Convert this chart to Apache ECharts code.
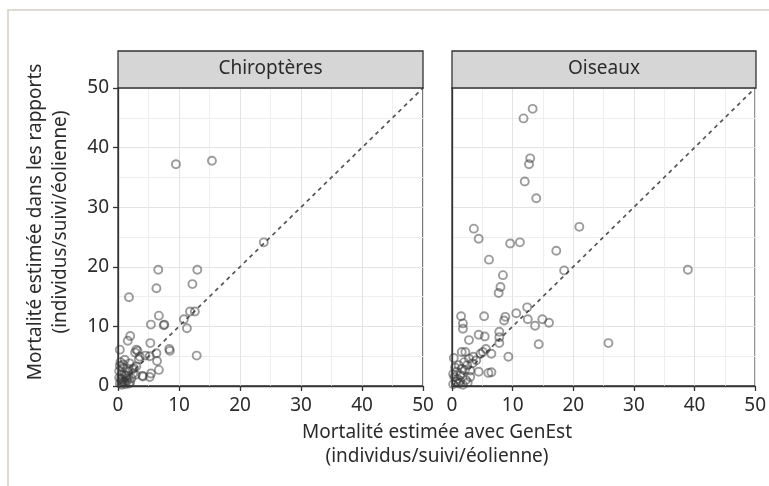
<!DOCTYPE html>
<html>
<head>
<meta charset="utf-8">
<script src="https://cdn.jsdelivr.net/npm/echarts@6/dist/echarts.min.js"></script>
<style>
  html, body { margin: 0; padding: 0; background: #fff; }
  #chart { width: 769px; height: 486px; }
</style>
</head>
<body>
<div id="chart"></div>
<script>
// panneaux
const panels = ['Chiroptères', 'Oiseaux']
const xTicks = [0, 10, 20, 30, 40, 50]
const yTicks = [0, 10, 20, 30, 40, 50]

// Chiroptères : GenEst (x) / rapports (y)
const chiroGenEst = [9.5, 15.4, 23.9, 6.6, 13.0, 6.3, 12.2, 1.8, 6.7, 5.4, 7.5, 7.6, 10.8, 11.8, 12.6, 11.3, 12.9, 2.0, 1.6, 5.3,
  8.4, 8.5, 3.2, 6.3, 4.5, 5.2, 6.4, 6.7, 5.4, 4.0, 5.2, 0.3, 3.0, 2.8, 1.1, 1.9, 3.0, 0.8, 1.7, 0.6,
  1.4, 2.2, 0.8, 0.3, 2.5, 4.1, 0.2, 1.2, 2.0, 0.5, 1.0, 2.6, 0.4, 3.4, 1.5,
  0.6, 1.3, 2.4, 0.9, 1.8, 0.3, 1.6, 2.9, 0.7, 1.1, 3.6, 0.2]
const chiroRapports = [37.2, 37.8, 24.1, 19.5, 19.5, 16.4, 17.1, 14.9, 11.8, 10.3, 10.2, 10.3, 11.2, 12.5, 12.5, 9.7, 5.1, 8.4, 7.6, 7.2,
  6.2, 5.9, 5.9, 5.5, 5.1, 5.0, 4.2, 2.7, 2.1, 1.7, 1.5, 6.1, 6.1, 5.6, 4.4, 3.8, 3.3, 3.0, 2.4, 1.9,
  1.3, 1.3, 0.7, 0.4, 2.1, 1.6, 2.5, 0.3, 0.6, 1.2, 2.0, 3.0, 4.0, 4.5, 0.9,
  0.2, 1.7, 2.8, 3.6, 0.4, 3.4, 2.9, 1.9, 1.1, 0.8, 4.9, 1.4]

// Oiseaux
const oiseauxGenEst = [13.3, 11.8, 12.9, 12.7, 12.0, 13.9, 3.6, 21.0, 4.4, 9.6, 11.2, 17.2, 6.1, 18.5, 38.9, 8.4, 8.0, 7.7, 1.5, 5.3,
  1.8, 1.8, 8.8, 8.6, 10.6, 12.4, 12.5, 14.9, 16.0, 13.7, 7.8, 4.4, 5.4, 2.8, 7.8, 7.8, 14.3, 25.8, 9.3, 1.6,
  2.2, 4.7, 5.1, 5.6, 6.5, 3.5, 4.4, 6.5, 6.0, 0.3, 1.1, 2.5, 0.7, 2.1, 3.0, 1.4, 3.0, 0.7, 2.3, 1.1,
  0.4, 1.8, 0.2, 4.0, 2.8,
  0.9, 1.6, 2.6, 0.5, 1.3, 3.4, 0.2, 2.0]
const oiseauxRapports = [46.5, 44.9, 38.2, 37.2, 34.3, 31.5, 26.4, 26.7, 24.7, 23.9, 24.1, 22.7, 21.2, 19.4, 19.5, 18.6, 16.6, 15.6, 11.7, 11.7,
  10.5, 9.6, 11.6, 11.0, 12.2, 13.2, 11.2, 11.2, 10.6, 10.1, 9.1, 8.6, 8.3, 7.7, 8.2, 7.2, 7.0, 7.2, 4.9, 5.7,
  5.7, 5.4, 5.7, 6.2, 5.4, 4.9, 2.4, 2.3, 2.2, 4.7, 3.5, 3.5, 2.4, 2.6, 2.6, 1.8, 1.5, 0.7, 1.0, 0.4,
  1.5, 0.2, 0.3, 4.3, 4.6,
  1.2, 2.9, 0.6, 3.1, 0.9, 3.8, 2.0, 4.0]

// droite y = x
const identite = [[0, 0], [50, 50]]

const font = 'Noto Sans'
const fontSize = 19
const textColor = '#2b2b2b'

const chart = echarts.init(document.getElementById('chart'))

function pairs(xs, ys) {
  return xs.map((x, i) => [x, ys[i]])
}

const grids = [
  { left: 118, top: 88, width: 305, height: 298 },
  { left: 452, top: 88, width: 304, height: 298 }
]

function xAxisFor(i) {
  return {
    type: 'value', gridIndex: i, min: xTicks[0], max: xTicks[xTicks.length - 1], interval: 10,
    axisLine: { show: true, lineStyle: { color: '#333', width: 1.3 } },
    axisTick: { show: true, length: 5, lineStyle: { color: '#333', width: 1.3 } },
    axisLabel: { show: true, margin: 10, color: textColor, fontSize: fontSize, fontFamily: font },
    splitLine: { show: true, lineStyle: { color: '#e3e3e3', width: 1 } },
    minorTick: { show: false, splitNumber: 2 },
    minorSplitLine: { show: true, lineStyle: { color: '#eeeeee', width: 1 } }
  }
}

function yAxisFor(i) {
  return {
    type: 'value', gridIndex: i, min: yTicks[0], max: yTicks[yTicks.length - 1], interval: 10,
    axisLine: { show: true, lineStyle: { color: '#333', width: 1.3 } },
    axisTick: { show: i === 0, length: 5, lineStyle: { color: '#333', width: 1.3 } },
    axisLabel: { show: i === 0, margin: 9, color: textColor, fontSize: fontSize, fontFamily: font },
    splitLine: { show: true, lineStyle: { color: '#e3e3e3', width: 1 } },
    minorTick: { show: false, splitNumber: 2 },
    minorSplitLine: { show: true, lineStyle: { color: '#eeeeee', width: 1 } }
  }
}

function pointSeries(i, data) {
  return {
    type: 'scatter', xAxisIndex: i, yAxisIndex: i, data: data,
    symbol: 'circle', symbolSize: 8,
    itemStyle: { color: 'rgba(255,255,255,0)', borderColor: 'rgba(55,55,55,0.62)', borderWidth: 1.9 },
    z: 3
  }
}

function lineSeries(i) {
  return {
    type: 'line', xAxisIndex: i, yAxisIndex: i, data: identite,
    symbol: 'none', silent: true,
    lineStyle: { color: '#555', width: 1.7, type: [4, 4] },
    z: 2
  }
}

const graphics = [
  // cadre extérieur
  { type: 'rect', shape: { x: 8, y: 10, width: 800, height: 500 }, style: { fill: 'none', stroke: '#dedad3', lineWidth: 2 }, z: 0 }
]

grids.forEach((g, i) => {
  graphics.push({
    type: 'rect', shape: { x: g.left, y: 51, width: g.width, height: 37 },
    style: { fill: '#d6d6d6', stroke: '#333', lineWidth: 1.3 }, z: 5
  })
  graphics.push({
    type: 'text', x: g.left + g.width / 2, y: 69,
    style: { text: panels[i], fill: textColor, font: fontSize + 'px "' + font + '"', textAlign: 'center', textVerticalAlign: 'middle' }, z: 6
  })
})

// titres des axes
const titleFont = fontSize + 'px "' + font + '"'
graphics.push({
  type: 'text', x: 437, y: 433,
  style: { text: 'Mortalité estimée avec GenEst', fill: textColor, font: titleFont, textAlign: 'center', textVerticalAlign: 'middle' }
})
graphics.push({
  type: 'text', x: 437, y: 457,
  style: { text: '(individus/suivi/éolienne)', fill: textColor, font: titleFont, textAlign: 'center', textVerticalAlign: 'middle' }
})
graphics.push({
  type: 'text', x: 36, y: 222, rotation: Math.PI / 2,
  style: { text: 'Mortalité estimée dans les rapports', fill: textColor, font: titleFont, textAlign: 'center', textVerticalAlign: 'middle' }
})
graphics.push({
  type: 'text', x: 61, y: 222, rotation: Math.PI / 2,
  style: { text: '(individus/suivi/éolienne)', fill: textColor, font: titleFont, textAlign: 'center', textVerticalAlign: 'middle' }
})

const option = {
  backgroundColor: '#fff',
  animation: false,
  grid: grids.map(g => Object.assign({ show: true, borderColor: '#333', borderWidth: 1.3, backgroundColor: '#fff' }, g)),
  xAxis: [xAxisFor(0), xAxisFor(1)],
  yAxis: [yAxisFor(0), yAxisFor(1)],
  series: [
    lineSeries(0),
    pointSeries(0, pairs(chiroGenEst, chiroRapports)),
    lineSeries(1),
    pointSeries(1, pairs(oiseauxGenEst, oiseauxRapports))
  ],
  graphic: graphics
}

chart.setOption(option)
</script>
</body>
</html>
